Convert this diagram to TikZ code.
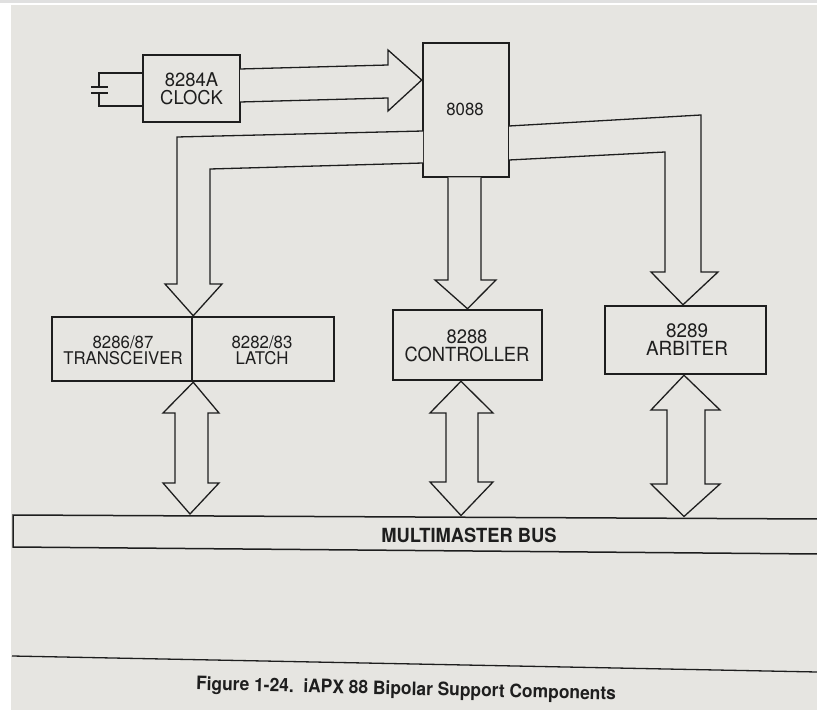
\documentclass[tikz,border=0pt]{standalone}
\usepackage{fontspec}
\setmainfont{TeX Gyre Heros}
\usetikzlibrary{calc}
\definecolor{paper}{RGB}{230,229,225}
\definecolor{ink}{RGB}{30,30,30}
\begin{document}
\begin{tikzpicture}[x=1pt,y=-1pt,
  box/.style={draw=ink, line width=2.5pt, rectangle, inner sep=0pt, align=center, text=ink},
  big/.style={font=\fontsize{19}{17.5}\selectfont, xscale=0.97},
  mid/.style={font=\fontsize{17.5}{16.3}\selectfont, xscale=0.96},
  lrg/.style={font=\fontsize{19.5}{18}\selectfont, xscale=0.94},
  blk/.style={draw=ink, line width=1.3pt, line join=miter, fill=paper},
  thin/.style={draw=ink, line width=1.3pt}]
\useasboundingbox (0,0) rectangle (817,714);
\fill[white] (0,0) rectangle (817,714);
\fill[paper] (11,5) rectangle (817,710);
\fill[black!12] (0,0) rectangle (817,3);

% boxes
\node[box, minimum width=97pt, minimum height=67pt] (clk) at (191.5,88.5) {};
\node[big, text=ink, align=center] (clkt) at (clk.center) {8284A\\CLOCK};
\node[box, minimum width=86pt, minimum height=134pt] (cpu) at (466,110) {};
\node[mid, text=ink] (cput) at (465,109) {8088};
\node[box, minimum width=140pt, minimum height=64pt] (trx) at (122,349) {};
\node[mid, text=ink, align=center] (trxt) at (123,350) {8286/87\\TRANSCEIVER};
\node[box, minimum width=142pt, minimum height=64pt] (lat) at (263,349) {};
\node[mid, text=ink, align=center] (latt) at (262,350) {8282/83\\LATCH};
\node[box, minimum width=149pt, minimum height=70pt] (ctl) at (467.5,345) {};
\node[lrg, text=ink, align=center] (ctlt) at (467,346) {8288\\CONTROLLER};
\node[box, minimum width=161pt, minimum height=68pt] (arb) at (685.5,340) {};
\node[lrg, text=ink, align=center, xscale=1.03] (arbt) at (687,340) {8289\\ARBITER};

% crystal
\coordinate (xa) at (clk.west |- 0,73);
\coordinate (xb) at (clk.west |- 0,106);
\draw[thin] (xa) -- (99,73) -- (99,87);
\draw[thin] (xb) -- (99,106) -- (99,93);
\draw[ink, line width=1.7pt] (91,87) -- (108,87);
\draw[ink, line width=1.7pt] (91,93) -- (108,93);

% clock -> 8088
\draw[blk] (240,69) -- (388,65) -- (388,50) -- (cpu.west |- 0,80) -- (388,111) -- (388,98) -- (240,102);

% 8088 -> transceiver/latch
\draw[blk] (423,131) -- (177,137) -- (177,284) -- (165,284) -- (trx.north east) -- (222,284) -- (210,284) -- (210,169) -- (423,163);

% 8088 -> controller
\draw[blk] (448,177.5) -- (448,280) -- (435,280) -- (ctl.north) -- (496,280) -- (481,280) -- (481,177.5);

% 8088 -> arbiter
\draw[blk] (509,126) -- (701,115) -- (701,272) -- (718,272) -- (arb.north -| 683,0) -- (651,272) -- (665,272) -- (665,152) -- (509,160);

% multimaster bus
\draw[ink, line width=1.5pt, fill=paper] (818,519) -- (13,515) -- (13,547) -- (818,554);
\node[font=\bfseries\fontsize{19.5}{19.5}\selectfont, text=ink, xscale=0.94] (bus) at (469,535) {MULTIMASTER BUS};
\coordinate (bt1) at (190,514);
\coordinate (bt2) at (461,515.5);
\coordinate (bt3) at (684,516.5);

% double arrows
\draw[blk] (trx.south east) -- (219,413) -- (208,413) -- (208,483) -- (219,483) -- (bt1) -- (163,483) -- (175,483) -- (175,413) -- (163,413) -- cycle;
\draw[blk] (ctl.south) ++(-6.5,0) coordinate (ct) -- (493,413) -- (478,413) -- (478,482) -- (493,482) -- (bt2) -- (430,482) -- (446,482) -- (446,413) -- (430,413) -- cycle;
\draw[blk] (arb.south -| 684,0) coordinate (at) -- (720,410) -- (705,410) -- (705,484) -- (720,484) -- (bt3) -- (651,484) -- (667,484) -- (667,410) -- (651,410) -- cycle;

% rule and caption
\draw[ink, line width=1.3pt] (12,656) -- (817,672);
\node[font=\bfseries\fontsize{18.5}{18.5}\selectfont, text=ink, rotate=-1.4, xscale=0.94] (cap) at (406,690) {Figure 1-24.\ \ iAPX 88 Bipolar Support Components};
\end{tikzpicture}
\end{document}
